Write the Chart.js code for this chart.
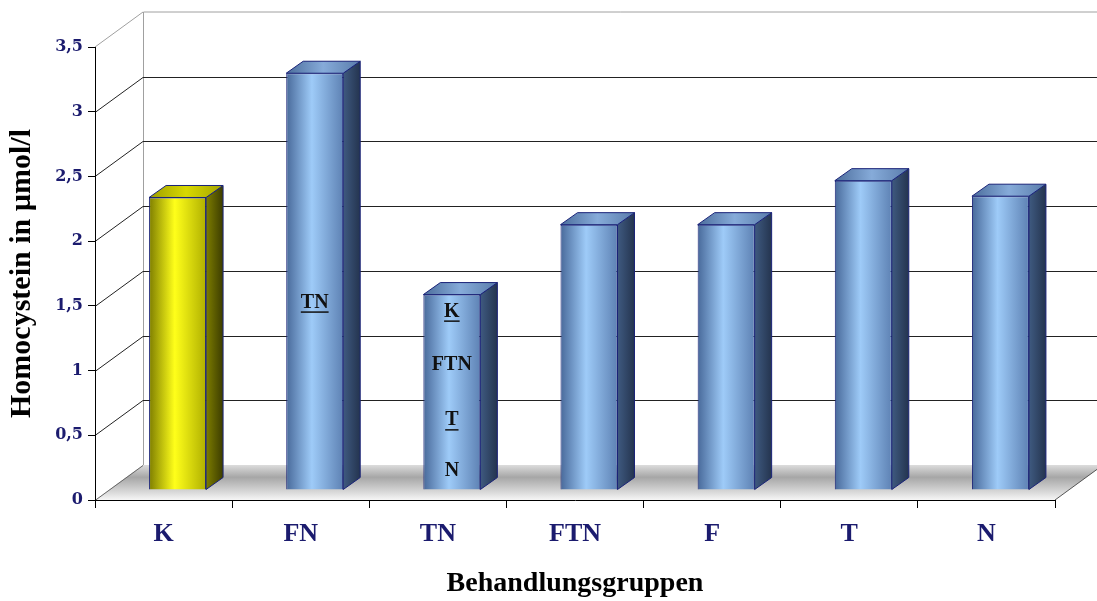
<!DOCTYPE html>
<html lang="de">
<head>
<meta charset="UTF-8">
<title>Homocystein</title>
<script src="https://cdn.jsdelivr.net/npm/chart.js"></script>
<style>
  html, body { margin: 0; padding: 0; background: #fff; }
  #wrap { width: 1097px; height: 601px; position: relative; }
</style>
</head>
<body>
<div id="wrap"><canvas id="myChart"></canvas></div>
<script>
  const categories = ['K', 'FN', 'TN', 'FTN', 'F', 'T', 'N'];
  const values = [2.26, 3.22, 1.51, 2.05, 2.05, 2.39, 2.27];
  const yTicks = [0, 0.5, 1, 1.5, 2, 2.5, 3, 3.5];
  // significance marks written inside the bars
  const markBar = [1, 2, 2, 2, 2];
  const markText = ['TN', 'K', 'FTN', 'T', 'N'];
  const markValue = [1.45, 1.38, 0.97, 0.54, 0.15];
  const markUnderline = [true, true, false, true, false];

  const WALL = { dx: 48, dy: -35 };   // back wall depth
  const BAR = { dx: 14, dy: -10 };    // bar front plane
  const DEPTH = { dx: 17, dy: -12 };  // bar thickness
  const serif = '"Liberation Serif", "Times New Roman", serif';
  const wideSerif = '"DejaVu Serif", serif';
  const navy = '#1b1b6e';

  function frontGradient(c) {
    const chart = c.chart;
    const xs = chart.scales.x;
    const isK = c.dataIndex === 0;
    const flat = isK ? '#ffff00' : '#8fb8ec';
    if (!xs || !chart.chartArea) return flat;
    const cx = xs.getPixelForValue(c.dataIndex);
    const w = (xs.width / categories.length) * 0.4156;
    if (!isFinite(cx) || !isFinite(w) || w <= 0) return flat;
    const g = chart.ctx.createLinearGradient(cx - w / 2, 0, cx + w / 2, 0);
    if (isK) {
      g.addColorStop(0, '#7e7e00');
      g.addColorStop(0.45, '#ffff1a');
      g.addColorStop(1, '#b0b000');
    } else {
      g.addColorStop(0, '#48699a');
      g.addColorStop(0.45, '#9ecbf8');
      g.addColorStop(1, '#5e82b4');
    }
    return g;
  }

  const backdrop = {
    id: 'backdrop',
    beforeDraw(chart) {
      const { ctx, chartArea: a, scales: { y } } = chart;
      const W = chart.width;
      const bottom = y.getPixelForValue(0);
      const top = y.getPixelForValue(3.5);
      ctx.save();
      // floor
      const g = ctx.createLinearGradient(0, bottom + WALL.dy, 0, bottom);
      g.addColorStop(0, '#dcdcdc');
      g.addColorStop(0.35, '#a6a6a6');
      g.addColorStop(0.75, '#d6d6d6');
      g.addColorStop(1, '#f6f6f6');
      ctx.beginPath();
      ctx.moveTo(a.left, bottom);
      ctx.lineTo(a.left + WALL.dx, bottom + WALL.dy);
      ctx.lineTo(a.right + WALL.dx, bottom + WALL.dy);
      ctx.lineTo(a.right, bottom);
      ctx.closePath();
      ctx.fillStyle = g;
      ctx.fill();
      ctx.strokeStyle = '#555';
      ctx.lineWidth = 1;
      ctx.beginPath();
      ctx.moveTo(a.right, bottom);
      ctx.lineTo(a.right + WALL.dx, bottom + WALL.dy);
      ctx.stroke();
      // back wall frame
      ctx.strokeStyle = '#a0a0a0';
      ctx.beginPath();
      ctx.moveTo(a.left + WALL.dx + 0.5, bottom + WALL.dy);
      ctx.lineTo(a.left + WALL.dx + 0.5, top + WALL.dy);
      ctx.lineTo(W, top + WALL.dy);
      ctx.moveTo(a.left, top);
      ctx.lineTo(a.left + WALL.dx, top + WALL.dy);
      ctx.stroke();
      // gridlines on side and back walls
      yTicks.forEach(t => {
        if (t === 3.5) return;
        const py = Math.round(y.getPixelForValue(t)) + 0.5;
        ctx.strokeStyle = t === 0 ? '#666' : '#222';
        ctx.beginPath();
        ctx.moveTo(a.left, py);
        ctx.lineTo(a.left + WALL.dx, py + WALL.dy);
        if (t > 0) ctx.lineTo(W, py + WALL.dy);
        ctx.stroke();
      });
      ctx.restore();
    },
    beforeDatasetDraw(chart) {
      chart.ctx.save();
      chart.ctx.translate(BAR.dx, BAR.dy);
    },
    afterDatasetDraw(chart) {
      const { ctx, scales: { y } } = chart;
      const meta = chart.getDatasetMeta(0);
      meta.data.forEach((el, i) => {
        const isK = i === 0;
        const r = el.x + el.width / 2, l = el.x - el.width / 2;
        // side face
        const gs = ctx.createLinearGradient(r, 0, r + DEPTH.dx, 0);
        gs.addColorStop(0, isK ? '#7d7d00' : '#3f5a80');
        gs.addColorStop(1, isK ? '#3c3c00' : '#24344f');
        ctx.beginPath();
        ctx.moveTo(r, el.y);
        ctx.lineTo(r + DEPTH.dx, el.y + DEPTH.dy);
        ctx.lineTo(r + DEPTH.dx, el.base + DEPTH.dy);
        ctx.lineTo(r, el.base);
        ctx.closePath();
        ctx.fillStyle = gs;
        ctx.fill();
        ctx.strokeStyle = '#1a2378';
        ctx.lineWidth = 1;
        ctx.stroke();
        // top face
        const gt = ctx.createLinearGradient(l, 0, r + DEPTH.dx, 0);
        gt.addColorStop(0, isK ? '#9c9c00' : '#4c6d9c');
        gt.addColorStop(0.5, isK ? '#d8d800' : '#86abd9');
        gt.addColorStop(1, isK ? '#a4a400' : '#5a7cab');
        ctx.beginPath();
        ctx.moveTo(l, el.y);
        ctx.lineTo(l + DEPTH.dx, el.y + DEPTH.dy);
        ctx.lineTo(r + DEPTH.dx, el.y + DEPTH.dy);
        ctx.lineTo(r, el.y);
        ctx.closePath();
        ctx.fillStyle = gt;
        ctx.fill();
        ctx.stroke();
      });
      // marks inside bars
      ctx.font = 'bold 20px ' + serif;
      ctx.fillStyle = '#111';
      ctx.textAlign = 'center';
      ctx.textBaseline = 'middle';
      markText.forEach((txt, k) => {
        const el = meta.data[markBar[k]];
        const py = y.getPixelForValue(markValue[k]);
        ctx.fillText(txt, el.x, py);
        if (markUnderline[k]) {
          const w = ctx.measureText(txt).width;
          ctx.fillRect(el.x - w / 2, py + 9, w, 1.5);
        }
      });
      ctx.restore();
    }
  };

  new Chart(document.getElementById('myChart'), {
    type: 'bar',
    data: {
      labels: categories,
      datasets: [{
        data: values,
        backgroundColor: frontGradient,
        borderColor: '#1a2378',
        borderWidth: 1,
        barPercentage: 0.4156,
        categoryPercentage: 1
      }]
    },
    options: {
      responsive: true,
      maintainAspectRatio: false,
      animation: false,
      events: [],
      layout: { padding: { top: 47, right: 42, left: 0, bottom: 0 } },
      plugins: { legend: { display: false }, tooltip: { enabled: false } },
      scales: {
        x: {
          afterFit(scale) { scale.height = 101; },
          border: { color: '#000', width: 1 },
          grid: { offset: true, drawOnChartArea: false, color: '#000', tickLength: 8 },
          ticks: { color: navy, font: { family: serif, size: 26, weight: 'bold' }, padding: 11 },
          title: {
            display: true, text: 'Behandlungsgruppen', color: '#000',
            font: { family: serif, size: 28, weight: 'bold' }, padding: { top: 0, bottom: 0 }
          }
        },
        y: {
          min: 0,
          max: 3.5,
          afterFit(scale) { scale.width = 95; },
          afterBuildTicks(scale) { scale.ticks = yTicks.map(v => ({ value: v })); },
          border: { color: '#000', width: 1 },
          grid: { drawOnChartArea: false, color: '#000', tickLength: 7 },
          ticks: {
            color: navy, padding: 5,
            font: { family: wideSerif, size: 16, weight: 'bold' },
            callback: v => String(v).replace('.', ',')
          },
          title: {
            display: true, text: 'Homocystein in µmol/l', color: '#000',
            font: { family: serif, size: 30, weight: 'bold' }, padding: { top: 4, bottom: 0 }
          }
        }
      }
    },
    plugins: [backdrop]
  });
</script>
</body>
</html>
